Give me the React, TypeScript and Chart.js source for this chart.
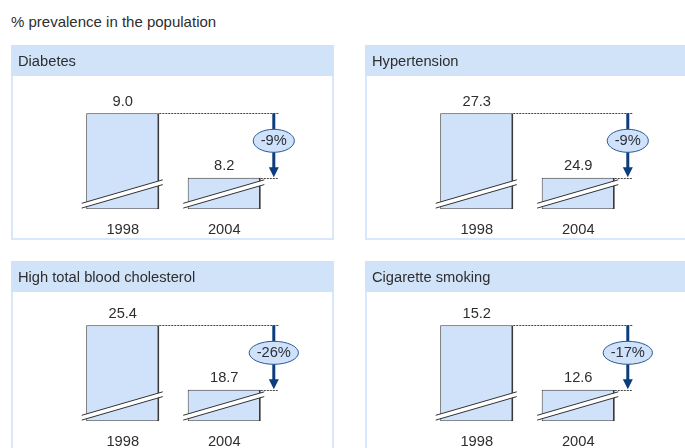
import React, { useEffect, useRef } from 'react';
import { Chart, registerables } from 'chart.js';

Chart.register(...registerables);

const mainTitle = '% prevalence in the population';
const panelTitles = ['Diabetes', 'Hypertension', 'High total blood cholesterol', 'Cigarette smoking'];
const years = ['1998', '2004'];
const values1998 = [9.0, 27.3, 25.4, 15.2];
const values2004 = [8.2, 24.9, 18.7, 12.6];
const changeLabels = ['-9%', '-9%', '-26%', '-17%'];

const FONT = '"Liberation Sans", Arial, Helvetica, sans-serif';
const FS = 14.7;
const TEXT = '#2e2e2e';
const LIGHT = '#d1e3f9';
const BAR_FILL = '#cfe2fa';
const NAVY = '#0c3d7c';

const PANEL_W = 323;
const PANEL_H = 196;

// pixel design of the broken axis (layout only)
const AREA_PX = 124.3;
const BAR1_PX = 96;
const BAR2_PX = 31.6;
const X_AXIS_PX = 30;

const layoutPanels = [
  { left: 11, top: 45, shift: 0 },
  { left: 365, top: 45, shift: 0 },
  { left: 11, top: 261, shift: -4 },
  { left: 365, top: 261, shift: -4 },
];

function Panel({ idx }: { idx: number }) {
  const ref = useRef<HTMLCanvasElement | null>(null);
  const L = layoutPanels[idx];
  useEffect(() => {
    const canvas = ref.current;
    if (!canvas) return;
    const v1 = values1998[idx];
    const v2 = values2004[idx];
    const u = (v1 - v2) / (BAR1_PX - BAR2_PX);
    const yMin = v2 - BAR2_PX * u;
    const yMax = yMin + AREA_PX * u;
    const padTop = 40 + L.shift;

    const panelPlugin = {
      id: 'panelDeco',
      beforeDraw(chart: any) {
        const ctx = chart.ctx;
        const W = chart.width;
        const H = chart.height;
        ctx.save();
        ctx.fillStyle = '#ffffff';
        ctx.fillRect(0, 0, W, H);
        // border
        ctx.strokeStyle = '#d8e7f9';
        ctx.lineWidth = 2;
        ctx.strokeRect(1, 1, W - 2, PANEL_H - 3);
        // header
        ctx.fillStyle = LIGHT;
        ctx.fillRect(0, 0, W, 31);
        ctx.fillStyle = TEXT;
        ctx.font = `${FS}px ${FONT}`;
        ctx.textBaseline = 'middle';
        ctx.textAlign = 'left';
        ctx.fillText(panelTitles[idx], 7, 16.5);
        ctx.restore();
      },
      afterDatasetsDraw(chart: any) {
        const ctx = chart.ctx;
        const bars = chart.getDatasetMeta(0).data;
        ctx.save();
        // axis breaks
        bars.forEach((b: any) => {
          const left = b.x - b.width / 2;
          const right = b.x + b.width / 2;
          const bottom = b.base;
          const x0 = left - 4.5;
          const x1 = right + 3.5;
          const rise = 23.5;
          const uL = bottom - 6;
          const lL = bottom - 1.2;
          ctx.fillStyle = '#ffffff';
          ctx.beginPath();
          ctx.moveTo(x0, uL);
          ctx.lineTo(x1, uL - rise);
          ctx.lineTo(x1, lL - rise);
          ctx.lineTo(x0, lL);
          ctx.closePath();
          ctx.fill();
          ctx.strokeStyle = '#333333';
          ctx.lineWidth = 1;
          ctx.beginPath();
          ctx.moveTo(x0, uL);
          ctx.lineTo(x1, uL - rise);
          ctx.moveTo(x0, lL);
          ctx.lineTo(x1, lL - rise);
          ctx.stroke();
        });
        // value labels
        ctx.fillStyle = TEXT;
        ctx.font = `${FS}px ${FONT}`;
        ctx.textAlign = 'center';
        ctx.textBaseline = 'middle';
        const vals = [v1, v2];
        bars.forEach((b: any, i: number) => {
          ctx.fillText(vals[i].toFixed(1), b.x, b.y - 11.8);
        });
        const b1 = bars[0];
        const b2 = bars[1];
        const arrowX = b2.x + b2.width / 2 + 13;
        // dotted lines
        ctx.strokeStyle = '#444444';
        ctx.lineWidth = 1;
        ctx.setLineDash([2, 1]);
        ctx.beginPath();
        ctx.moveTo(b1.x + b1.width / 2, Math.round(b1.y) + 0.5);
        ctx.lineTo(arrowX + 5, Math.round(b1.y) + 0.5);
        ctx.moveTo(b2.x + b2.width / 2, Math.round(b2.y) + 0.5);
        ctx.lineTo(arrowX + 5, Math.round(b2.y) + 0.5);
        ctx.stroke();
        ctx.setLineDash([]);
        // arrow
        const tip = b2.y - 0.5;
        ctx.strokeStyle = NAVY;
        ctx.lineWidth = 3;
        ctx.beginPath();
        ctx.moveTo(arrowX, b1.y);
        ctx.lineTo(arrowX, tip - 9);
        ctx.stroke();
        ctx.fillStyle = NAVY;
        ctx.beginPath();
        ctx.moveTo(arrowX - 5, tip - 10);
        ctx.lineTo(arrowX + 5, tip - 10);
        ctx.lineTo(arrowX, tip);
        ctx.closePath();
        ctx.fill();
        // ellipse with change label
        const label = changeLabels[idx];
        ctx.font = `${FS}px ${FONT}`;
        const tw = ctx.measureText(label).width;
        const cy = b1.y + 27.5;
        ctx.beginPath();
        ctx.ellipse(arrowX, cy, tw / 2 + 7.5, 11.5, 0, 0, Math.PI * 2);
        ctx.fillStyle = BAR_FILL;
        ctx.fill();
        ctx.strokeStyle = '#2b5a95';
        ctx.lineWidth = 1;
        ctx.stroke();
        ctx.fillStyle = '#2a2f3a';
        ctx.textAlign = 'center';
        ctx.textBaseline = 'middle';
        ctx.fillText(label, arrowX, cy + 0.5);
        ctx.restore();
      },
    };

    const chart = new Chart(canvas, {
      type: 'bar',
      data: {
        labels: years,
        datasets: [
          {
            data: [v1, v2],
            base: yMin,
            backgroundColor: BAR_FILL,
            borderColor: '#3a3a3a',
            borderWidth: { left: 1, top: 1, bottom: 1, right: 2 } as any,
            borderSkipped: false,
            categoryPercentage: 1,
            barPercentage: 0.72,
          } as any,
        ],
      },
      options: {
        responsive: false,
        animation: false,
        devicePixelRatio: 1,
        layout: {
          padding: {
            top: padTop,
            left: 61,
            right: 59,
            bottom: PANEL_H - X_AXIS_PX - AREA_PX - padTop,
          },
        },
        plugins: { legend: { display: false }, tooltip: { enabled: false } },
        events: [],
        scales: {
          x: {
            grid: { display: false, drawTicks: false },
            border: { display: false },
            ticks: { color: TEXT, font: { family: FONT, size: FS }, padding: 12, maxRotation: 0 },
            afterFit: (scale: any) => {
              scale.height = X_AXIS_PX;
            },
          },
          y: { display: false, min: yMin, max: yMax },
        },
      },
      plugins: [panelPlugin],
    });
    return () => chart.destroy();
  }, [idx]);
  return (
    <canvas
      ref={ref}
      width={PANEL_W}
      height={PANEL_H}
      style={{ position: 'absolute', left: L.left, top: L.top, width: PANEL_W, height: PANEL_H }}
    />
  );
}

export default function App() {
  return (
    <div
      style={{
        position: 'fixed',
        left: 0,
        top: 0,
        width: 685,
        height: 448,
        overflow: 'hidden',
        background: '#ffffff',
      }}
    >
      <div
        style={{
          position: 'absolute',
          left: 11,
          top: 13,
          fontFamily: FONT,
          fontSize: 15,
          color: TEXT,
          lineHeight: '18px',
          whiteSpace: 'nowrap',
        }}
      >
        {mainTitle}
      </div>
      {layoutPanels.map((_, i) => (
        <Panel key={i} idx={i} />
      ))}
    </div>
  );
}
